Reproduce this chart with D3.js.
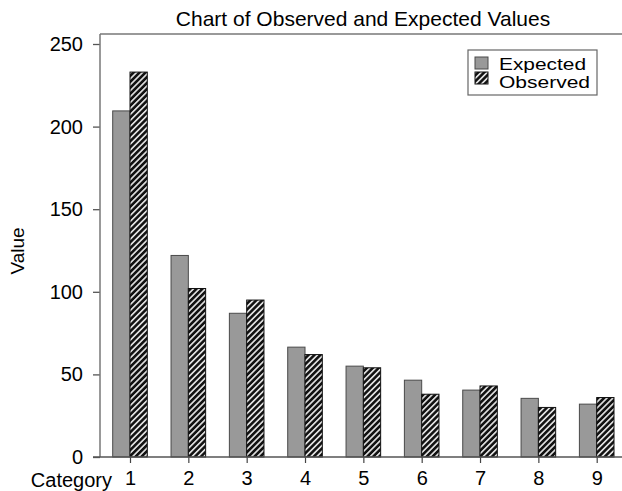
<!DOCTYPE html>
<html>
<head>
<meta charset="utf-8">
<script src="https://cdn.jsdelivr.net/npm/d3@7"></script>
<style>
  html, body { margin: 0; padding: 0; background: #fff; }
  svg { display: block; font-family: "Liberation Sans", Arial, Helvetica, sans-serif; }
</style>
</head>
<body>
<svg id="chart" width="622" height="491"></svg>
<script>
const categories = ["1", "2", "3", "4", "5", "6", "7", "8", "9"];
const expectedValues = [209.5, 122, 87, 66.5, 55, 46.5, 40.5, 35.5, 32];
const observedValues = [233, 102, 95, 62, 54, 38, 43, 30, 36];
const yTicks = [0, 50, 100, 150, 200, 250];
const seriesNames = ["Expected", "Observed"];
const titleText = "Chart of Observed and Expected Values";
const xLabel = "Category";
const yLabel = "Value";

const svg = d3.select("#chart");
const W = 622, H = 491;
const plotLeft = 100, plotTop = 34;
const barW = 17.3;

const defs = svg.append("defs");
const pat = defs.append("pattern")
  .attr("id", "hatch")
  .attr("patternUnits", "userSpaceOnUse")
  .attr("width", 4.2).attr("height", 4.2)
  .attr("patternTransform", "rotate(45)");
pat.append("rect").attr("width", 4.2).attr("height", 4.2).attr("fill", "#111");
pat.append("rect").attr("x", 0).attr("y", 0).attr("width", 1.7).attr("height", 4.2).attr("fill", "#dcdcdc");

const x = d3.scalePoint().domain(categories).range([130, 596.7]);
const y = d3.scaleLinear().domain([0, 250]).range([457, 44]);

svg.append("line").attr("x1", plotLeft).attr("x2", W).attr("y1", plotTop).attr("y2", plotTop)
  .attr("stroke", "#777").attr("stroke-width", 1.5);

const data = categories.map((c, i) => ({ c, e: expectedValues[i], o: observedValues[i] }));
svg.append("g").selectAll("rect").data(data).join("rect")
  .attr("x", d => x(d.c) - barW)
  .attr("y", d => y(d.e))
  .attr("width", barW)
  .attr("height", d => y(0) - y(d.e))
  .attr("fill", "#999")
  .attr("stroke", "#4a4a4a")
  .attr("stroke-width", 1);
svg.append("g").selectAll("rect").data(data).join("rect")
  .attr("x", d => x(d.c))
  .attr("y", d => y(d.o))
  .attr("width", barW)
  .attr("height", d => y(0) - y(d.o))
  .attr("fill", "url(#hatch)")
  .attr("stroke", "#111")
  .attr("stroke-width", 1);

const yAxis = d3.axisLeft(y).tickValues(yTicks).tickSize(7).tickPadding(10).tickFormat(d3.format("d"));
const gy = svg.append("g").attr("transform", `translate(${plotLeft},0)`).call(yAxis);
gy.select(".domain").remove();
gy.selectAll(".tick line").attr("stroke", "#555").attr("stroke-width", 1.3);
gy.selectAll(".tick text").attr("font-size", 20).attr("fill", "#000")
  .attr("font-family", "Liberation Sans, Arial, sans-serif");
svg.append("line").attr("x1", plotLeft).attr("x2", plotLeft).attr("y1", plotTop).attr("y2", y(0))
  .attr("stroke", "#777").attr("stroke-width", 1.5);

const xAxis = d3.axisBottom(x).tickSize(6).tickPadding(8);
const gx = svg.append("g").attr("transform", `translate(0,${y(0)})`).call(xAxis);
gx.select(".domain").remove();
gx.selectAll(".tick line").attr("stroke", "#444").attr("stroke-width", 1.2);
gx.selectAll(".tick text").attr("font-size", 20).attr("fill", "#000")
  .attr("font-family", "Liberation Sans, Arial, sans-serif");
svg.append("line").attr("x1", 93).attr("x2", W).attr("y1", y(0)).attr("y2", y(0))
  .attr("stroke", "#555").attr("stroke-width", 1.5);

svg.append("text").attr("x", 363).attr("y", 26).attr("text-anchor", "middle")
  .attr("font-size", 21).attr("fill", "#000").text(titleText);
svg.append("text").attr("x", 112).attr("y", 487).attr("text-anchor", "end")
  .attr("font-size", 20).attr("fill", "#000").text(xLabel);
svg.append("text").attr("transform", "translate(24,251) rotate(-90)").attr("text-anchor", "middle")
  .attr("font-size", 19).attr("fill", "#000").text(yLabel);

const lg = svg.append("g");
lg.append("rect").attr("x", 468).attr("y", 50).attr("width", 129).attr("height", 45)
  .attr("fill", "#fff").attr("stroke", "#666").attr("stroke-width", 1.2);
const fills = ["#999", "url(#hatch)"];
const strokes = ["#4a4a4a", "#111"];
const lens = [87, 91];
seriesNames.forEach((name, i) => {
  lg.append("rect").attr("x", 475).attr("y", 57 + i * 15).attr("width", 13).attr("height", 12)
    .attr("fill", fills[i]).attr("stroke", strokes[i]).attr("stroke-width", 1);
  lg.append("text").attr("x", 499).attr("y", 70 + i * 18).attr("font-size", 16)
    .attr("textLength", lens[i]).attr("lengthAdjust", "spacingAndGlyphs")
    .attr("fill", "#000").text(name);
});
</script>
</body>
</html>
